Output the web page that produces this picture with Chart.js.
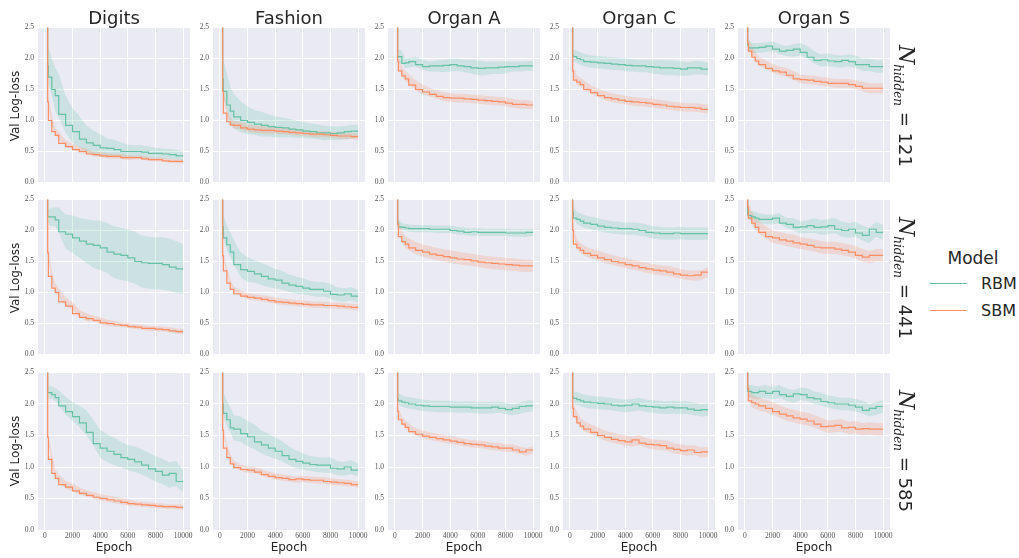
<!DOCTYPE html>
<html><head><meta charset="utf-8">
<script src="https://cdn.jsdelivr.net/npm/chart.js@4.4.1/dist/chart.umd.min.js"></script>
<style>
html,body{margin:0;padding:0;background:#fff;}
body{width:1019px;height:558px;position:relative;overflow:hidden;font-family:'DejaVu Sans',sans-serif;color:#262626;}
canvas{position:absolute;}
.t{position:absolute;white-space:nowrap;line-height:1.2;}
</style></head><body>
<script>
// ---------------- data ----------------
const EPOCHS = [200, 250, 500, 750, 1000, 1500, 2000, 2500, 3000, 3500, 4000, 4500, 5000, 5500, 6000, 6500, 7000, 7500, 8000, 8500, 9000, 9500, 10000];
const DATASET_NAMES = ['Digits', 'Fashion', 'Organ A', 'Organ C', 'Organ S'];
const HIDDEN_SIZES = [121, 441, 585];
const MODELS = ['RBM', 'SBM'];
const X_TICKS = [0, 2000, 4000, 6000, 8000, 10000];
const Y_TICKS = [0, 0.5, 1.0, 1.5, 2.0, 2.5];

// N_hidden = 121
const RBM_DIG_121 = [3.0, 1.88, 1.7, 1.5, 1.4, 1.1, 0.92, 0.82, 0.7, 0.64, 0.6, 0.56, 0.55, 0.53, 0.5, 0.5, 0.5, 0.49, 0.47, 0.47, 0.46, 0.45, 0.43];
const RBM_DIG_121_BAND = [0.3, 0.3, 0.3, 0.35, 0.35, 0.3, 0.28, 0.25, 0.22, 0.2, 0.18, 0.15, 0.14, 0.12, 0.11, 0.1, 0.1, 0.09, 0.09, 0.08, 0.08, 0.08, 0.07];
const SBM_DIG_121 = [3.0, 1.3, 1.0, 0.82, 0.76, 0.63, 0.58, 0.53, 0.5, 0.46, 0.45, 0.43, 0.42, 0.42, 0.4, 0.4, 0.4, 0.38, 0.37, 0.37, 0.35, 0.34, 0.34];
const SBM_DIG_121_BAND = [0.1, 0.1, 0.08, 0.06, 0.06, 0.05, 0.05, 0.05, 0.04, 0.04, 0.04, 0.04, 0.04, 0.04, 0.04, 0.03, 0.03, 0.03, 0.03, 0.03, 0.03, 0.03, 0.03];

const RBM_FAS_121 = [3.0, 1.67, 1.47, 1.25, 1.15, 1.06, 1.0, 0.97, 0.94, 0.92, 0.9, 0.89, 0.88, 0.86, 0.85, 0.83, 0.82, 0.8, 0.8, 0.79, 0.8, 0.82, 0.83];
const RBM_FAS_121_BAND = [0.3, 0.3, 0.3, 0.3, 0.28, 0.25, 0.22, 0.2, 0.2, 0.18, 0.17, 0.16, 0.15, 0.14, 0.13, 0.12, 0.12, 0.12, 0.11, 0.11, 0.11, 0.11, 0.1];
const SBM_FAS_121 = [3.0, 1.47, 1.12, 0.98, 0.93, 0.92, 0.88, 0.86, 0.85, 0.84, 0.84, 0.83, 0.82, 0.81, 0.8, 0.79, 0.78, 0.78, 0.77, 0.76, 0.75, 0.75, 0.74];
const SBM_FAS_121_BAND = [0.08, 0.08, 0.07, 0.06, 0.06, 0.06, 0.06, 0.06, 0.06, 0.06, 0.05, 0.05, 0.05, 0.05, 0.05, 0.05, 0.05, 0.05, 0.05, 0.05, 0.05, 0.05, 0.05];

const RBM_ORA_121 = [3.0, 2.03, 2.03, 1.92, 1.93, 1.95, 1.9, 1.87, 1.88, 1.88, 1.89, 1.9, 1.88, 1.87, 1.85, 1.84, 1.85, 1.85, 1.86, 1.87, 1.87, 1.88, 1.88];
const RBM_ORA_121_BAND = [0.12, 0.12, 0.1, 0.08, 0.08, 0.08, 0.08, 0.08, 0.09, 0.1, 0.1, 0.1, 0.1, 0.11, 0.12, 0.11, 0.1, 0.1, 0.1, 0.08, 0.08, 0.08, 0.08];
const SBM_ORA_121 = [3.0, 1.95, 1.8, 1.72, 1.67, 1.57, 1.5, 1.46, 1.42, 1.39, 1.37, 1.36, 1.36, 1.35, 1.34, 1.33, 1.32, 1.31, 1.3, 1.28, 1.26, 1.26, 1.25];
const SBM_ORA_121_BAND = [0.08, 0.08, 0.08, 0.08, 0.08, 0.08, 0.08, 0.07, 0.07, 0.07, 0.07, 0.07, 0.07, 0.07, 0.07, 0.07, 0.07, 0.07, 0.07, 0.07, 0.07, 0.07, 0.07];

const RBM_ORC_121 = [3.0, 2.05, 2.03, 2.0, 1.98, 1.95, 1.94, 1.93, 1.92, 1.91, 1.9, 1.89, 1.88, 1.88, 1.87, 1.86, 1.85, 1.85, 1.84, 1.83, 1.85, 1.85, 1.83];
const RBM_ORC_121_BAND = [0.1, 0.1, 0.1, 0.1, 0.1, 0.1, 0.1, 0.1, 0.1, 0.1, 0.1, 0.1, 0.1, 0.1, 0.11, 0.12, 0.12, 0.12, 0.12, 0.11, 0.11, 0.11, 0.1];
const SBM_ORC_121 = [3.0, 1.8, 1.65, 1.62, 1.58, 1.5, 1.45, 1.4, 1.37, 1.35, 1.33, 1.31, 1.3, 1.29, 1.28, 1.26, 1.25, 1.23, 1.22, 1.21, 1.21, 1.2, 1.18];
const SBM_ORC_121_BAND = [0.08, 0.08, 0.08, 0.07, 0.07, 0.07, 0.07, 0.07, 0.07, 0.07, 0.07, 0.07, 0.07, 0.07, 0.07, 0.07, 0.07, 0.07, 0.07, 0.07, 0.07, 0.07, 0.07];

const RBM_ORS_121 = [3.0, 2.22, 2.17, 2.17, 2.17, 2.18, 2.2, 2.15, 2.12, 2.13, 2.15, 2.1, 2.02, 1.97, 1.98, 1.96, 1.95, 1.97, 1.95, 1.9, 1.9, 1.87, 1.87];
const RBM_ORS_121_BAND = [0.12, 0.1, 0.08, 0.08, 0.08, 0.08, 0.08, 0.08, 0.08, 0.1, 0.1, 0.1, 0.1, 0.1, 0.1, 0.1, 0.1, 0.1, 0.1, 0.1, 0.1, 0.1, 0.1];
const SBM_ORS_121 = [3.0, 2.25, 2.12, 2.02, 1.96, 1.9, 1.84, 1.8, 1.78, 1.73, 1.67, 1.66, 1.65, 1.63, 1.62, 1.6, 1.6, 1.6, 1.58, 1.55, 1.52, 1.52, 1.52];
const SBM_ORS_121_BAND = [0.08, 0.08, 0.08, 0.08, 0.07, 0.07, 0.07, 0.07, 0.07, 0.07, 0.07, 0.07, 0.07, 0.07, 0.07, 0.07, 0.07, 0.07, 0.07, 0.08, 0.08, 0.08, 0.08];

// N_hidden = 441
const RBM_DIG_441 = [3.0, 2.22, 2.22, 2.22, 2.17, 1.98, 1.94, 1.88, 1.83, 1.78, 1.76, 1.72, 1.65, 1.62, 1.6, 1.56, 1.5, 1.48, 1.47, 1.47, 1.45, 1.41, 1.38];
const RBM_DIG_441_BAND = [0.1, 0.12, 0.15, 0.15, 0.2, 0.28, 0.3, 0.32, 0.35, 0.38, 0.4, 0.4, 0.42, 0.42, 0.42, 0.42, 0.42, 0.42, 0.42, 0.42, 0.42, 0.42, 0.4];
const SBM_DIG_441 = [3.0, 1.64, 1.26, 1.07, 1.0, 0.85, 0.78, 0.66, 0.6, 0.58, 0.55, 0.51, 0.5, 0.48, 0.47, 0.45, 0.44, 0.42, 0.42, 0.41, 0.4, 0.38, 0.37];
const SBM_DIG_441_BAND = [0.1, 0.1, 0.08, 0.08, 0.07, 0.07, 0.06, 0.06, 0.06, 0.05, 0.05, 0.05, 0.05, 0.04, 0.04, 0.04, 0.04, 0.04, 0.04, 0.04, 0.04, 0.04, 0.04];

const RBM_FAS_441 = [3.0, 2.06, 1.88, 1.77, 1.65, 1.45, 1.37, 1.34, 1.3, 1.26, 1.22, 1.2, 1.15, 1.12, 1.1, 1.07, 1.05, 1.05, 1.02, 0.97, 0.96, 0.98, 0.94];
const RBM_FAS_441_BAND = [0.2, 0.2, 0.2, 0.2, 0.2, 0.2, 0.2, 0.18, 0.18, 0.17, 0.16, 0.15, 0.14, 0.14, 0.13, 0.12, 0.12, 0.12, 0.12, 0.11, 0.11, 0.11, 0.1];
const SBM_FAS_441 = [3.0, 1.59, 1.35, 1.15, 1.05, 0.98, 0.94, 0.92, 0.91, 0.89, 0.87, 0.85, 0.84, 0.83, 0.82, 0.81, 0.8, 0.8, 0.79, 0.79, 0.78, 0.77, 0.76];
const SBM_FAS_441_BAND = [0.07, 0.07, 0.06, 0.06, 0.05, 0.05, 0.05, 0.05, 0.05, 0.05, 0.05, 0.05, 0.05, 0.05, 0.05, 0.05, 0.05, 0.05, 0.05, 0.05, 0.05, 0.05, 0.05];

const RBM_ORA_441 = [3.0, 2.12, 2.06, 2.05, 2.04, 2.03, 2.03, 2.03, 2.02, 2.02, 2.02, 2.0, 1.99, 1.97, 1.98, 1.97, 1.97, 1.97, 1.97, 1.96, 1.96, 1.96, 1.97];
const RBM_ORA_441_BAND = [0.08, 0.07, 0.06, 0.06, 0.06, 0.06, 0.06, 0.06, 0.06, 0.06, 0.06, 0.06, 0.06, 0.06, 0.06, 0.06, 0.06, 0.06, 0.06, 0.06, 0.06, 0.06, 0.06];
const SBM_ORA_441 = [3.0, 2.1, 1.9, 1.82, 1.78, 1.72, 1.68, 1.65, 1.62, 1.6, 1.58, 1.56, 1.54, 1.53, 1.51, 1.49, 1.48, 1.47, 1.46, 1.45, 1.44, 1.43, 1.43];
const SBM_ORA_441_BAND = [0.08, 0.08, 0.09, 0.1, 0.1, 0.1, 0.1, 0.1, 0.1, 0.1, 0.1, 0.1, 0.1, 0.1, 0.1, 0.1, 0.1, 0.1, 0.1, 0.1, 0.1, 0.1, 0.1];

const RBM_ORC_441 = [3.0, 2.3, 2.2, 2.18, 2.15, 2.12, 2.1, 2.07, 2.05, 2.04, 2.03, 2.03, 2.02, 2.0, 1.97, 1.96, 1.95, 1.95, 1.96, 1.95, 1.95, 1.95, 1.95];
const RBM_ORC_441_BAND = [0.1, 0.1, 0.1, 0.1, 0.1, 0.1, 0.1, 0.1, 0.1, 0.1, 0.1, 0.1, 0.1, 0.1, 0.1, 0.1, 0.1, 0.1, 0.1, 0.1, 0.1, 0.1, 0.1];
const SBM_ORC_441 = [3.0, 2.0, 1.78, 1.72, 1.68, 1.63, 1.6, 1.56, 1.53, 1.5, 1.48, 1.45, 1.43, 1.4, 1.38, 1.36, 1.35, 1.33, 1.3, 1.28, 1.27, 1.28, 1.33];
const SBM_ORC_441_BAND = [0.08, 0.08, 0.08, 0.08, 0.08, 0.08, 0.08, 0.08, 0.08, 0.08, 0.08, 0.08, 0.08, 0.08, 0.08, 0.08, 0.08, 0.08, 0.08, 0.08, 0.08, 0.08, 0.08];

const RBM_ORS_441 = [3.0, 2.25, 2.24, 2.22, 2.2, 2.18, 2.18, 2.2, 2.12, 2.1, 2.05, 2.06, 2.08, 2.05, 2.06, 2.08, 2.02, 2.0, 2.02, 1.96, 1.92, 2.02, 1.97];
const RBM_ORS_441_BAND = [0.08, 0.08, 0.08, 0.08, 0.08, 0.08, 0.08, 0.08, 0.08, 0.1, 0.1, 0.1, 0.12, 0.12, 0.12, 0.12, 0.12, 0.12, 0.12, 0.12, 0.12, 0.12, 0.12];
const SBM_ORS_441 = [3.0, 2.38, 2.2, 2.12, 2.05, 1.97, 1.9, 1.88, 1.85, 1.83, 1.8, 1.78, 1.76, 1.73, 1.72, 1.72, 1.7, 1.68, 1.65, 1.6, 1.57, 1.6, 1.6];
const SBM_ORS_441_BAND = [0.1, 0.1, 0.1, 0.1, 0.1, 0.1, 0.1, 0.1, 0.1, 0.1, 0.1, 0.1, 0.1, 0.1, 0.1, 0.1, 0.1, 0.1, 0.1, 0.1, 0.1, 0.1, 0.1];

// N_hidden = 585
const RBM_DIG_585 = [3.0, 2.18, 2.18, 2.15, 2.1, 1.97, 1.88, 1.8, 1.7, 1.55, 1.37, 1.3, 1.25, 1.2, 1.15, 1.12, 1.08, 1.03, 0.97, 0.93, 0.87, 0.9, 0.77];
const RBM_DIG_585_BAND = [0.1, 0.1, 0.1, 0.1, 0.12, 0.14, 0.15, 0.17, 0.2, 0.2, 0.22, 0.22, 0.22, 0.2, 0.2, 0.2, 0.2, 0.2, 0.2, 0.2, 0.2, 0.2, 0.18];
const SBM_DIG_585 = [3.0, 1.47, 1.12, 0.9, 0.82, 0.72, 0.68, 0.62, 0.58, 0.55, 0.52, 0.5, 0.48, 0.46, 0.44, 0.42, 0.41, 0.4, 0.39, 0.38, 0.37, 0.37, 0.36];
const SBM_DIG_585_BAND = [0.1, 0.08, 0.07, 0.07, 0.06, 0.06, 0.06, 0.06, 0.05, 0.05, 0.05, 0.05, 0.05, 0.05, 0.05, 0.04, 0.04, 0.04, 0.04, 0.04, 0.04, 0.04, 0.04];

const RBM_FAS_585 = [3.0, 2.0, 1.85, 1.75, 1.62, 1.6, 1.53, 1.48, 1.4, 1.35, 1.3, 1.25, 1.18, 1.12, 1.09, 1.06, 1.04, 1.03, 1.03, 0.98, 0.97, 1.0, 0.95];
const RBM_FAS_585_BAND = [0.2, 0.2, 0.2, 0.2, 0.2, 0.2, 0.2, 0.2, 0.18, 0.18, 0.17, 0.16, 0.15, 0.14, 0.13, 0.12, 0.12, 0.12, 0.12, 0.11, 0.11, 0.11, 0.1];
const SBM_FAS_585 = [3.0, 1.58, 1.3, 1.15, 1.05, 0.99, 0.96, 0.95, 0.92, 0.88, 0.85, 0.83, 0.82, 0.8, 0.81, 0.8, 0.79, 0.79, 0.77, 0.76, 0.75, 0.74, 0.72];
const SBM_FAS_585_BAND = [0.07, 0.07, 0.06, 0.06, 0.05, 0.05, 0.05, 0.05, 0.05, 0.05, 0.05, 0.05, 0.05, 0.05, 0.05, 0.05, 0.05, 0.05, 0.05, 0.05, 0.05, 0.05, 0.05];

const RBM_ORA_585 = [3.0, 2.08, 2.05, 2.03, 2.02, 2.0, 1.98, 1.97, 1.96, 1.96, 1.96, 1.95, 1.95, 1.95, 1.94, 1.94, 1.94, 1.95, 1.93, 1.91, 1.93, 1.96, 1.97];
const RBM_ORA_585_BAND = [0.09, 0.09, 0.09, 0.09, 0.09, 0.09, 0.09, 0.09, 0.09, 0.09, 0.09, 0.09, 0.09, 0.09, 0.09, 0.09, 0.09, 0.09, 0.09, 0.09, 0.09, 0.09, 0.09];
const SBM_ORA_585 = [3.0, 1.88, 1.75, 1.68, 1.63, 1.56, 1.52, 1.49, 1.47, 1.45, 1.43, 1.41, 1.39, 1.37, 1.36, 1.35, 1.33, 1.32, 1.3, 1.3, 1.27, 1.24, 1.27];
const SBM_ORA_585_BAND = [0.06, 0.06, 0.06, 0.06, 0.06, 0.06, 0.06, 0.06, 0.06, 0.06, 0.06, 0.06, 0.06, 0.06, 0.06, 0.06, 0.06, 0.06, 0.06, 0.06, 0.06, 0.06, 0.06];

const RBM_ORC_585 = [3.0, 2.1, 2.09, 2.07, 2.05, 2.03, 2.02, 2.01, 2.0, 1.98, 1.97, 1.98, 2.0, 1.97, 1.96, 1.95, 1.94, 1.95, 1.94, 1.94, 1.92, 1.9, 1.91];
const RBM_ORC_585_BAND = [0.1, 0.1, 0.1, 0.1, 0.1, 0.1, 0.1, 0.1, 0.1, 0.1, 0.1, 0.1, 0.1, 0.1, 0.1, 0.1, 0.1, 0.1, 0.1, 0.1, 0.1, 0.1, 0.1];
const SBM_ORC_585 = [3.0, 1.93, 1.8, 1.7, 1.65, 1.6, 1.55, 1.5, 1.47, 1.44, 1.42, 1.4, 1.43, 1.38, 1.36, 1.35, 1.34, 1.3, 1.28, 1.26, 1.27, 1.23, 1.24];
const SBM_ORC_585_BAND = [0.08, 0.08, 0.08, 0.08, 0.08, 0.08, 0.08, 0.08, 0.08, 0.08, 0.08, 0.08, 0.08, 0.08, 0.08, 0.08, 0.08, 0.08, 0.08, 0.08, 0.08, 0.08, 0.08];

const RBM_ORS_585 = [3.0, 2.2, 2.2, 2.18, 2.18, 2.2, 2.17, 2.2, 2.15, 2.12, 2.16, 2.15, 2.1, 2.08, 2.04, 2.02, 2.0, 2.0, 1.98, 1.95, 1.9, 1.93, 1.96];
const RBM_ORS_585_BAND = [0.1, 0.1, 0.1, 0.1, 0.1, 0.1, 0.1, 0.1, 0.1, 0.1, 0.1, 0.1, 0.1, 0.1, 0.1, 0.1, 0.1, 0.1, 0.1, 0.1, 0.1, 0.1, 0.1];
const SBM_ORS_585 = [3.0, 2.25, 2.05, 2.02, 2.0, 1.97, 1.93, 1.88, 1.84, 1.81, 1.78, 1.76, 1.73, 1.68, 1.64, 1.65, 1.66, 1.62, 1.63, 1.6, 1.61, 1.6, 1.6];
const SBM_ORS_585_BAND = [0.1, 0.1, 0.1, 0.1, 0.1, 0.1, 0.1, 0.1, 0.1, 0.1, 0.1, 0.1, 0.1, 0.1, 0.1, 0.1, 0.1, 0.1, 0.1, 0.1, 0.1, 0.1, 0.1];

// ---------------- layout & style ----------------
const PLOT_LEFT = [38, 213, 388, 563, 738];
const PLOT_TOP = [27, 199, 372];
const PLOT_W = 152, PLOT_H = 158;
const COLORS = { RBM: '#66c2a5', SBM: '#fc8d62' };
const BAND_COLORS = { RBM: 'rgba(102,194,165,0.22)', SBM: 'rgba(252,141,98,0.22)' };
const TEXT = '#262626';
const TICK_FONT = { family: "'Liberation Serif','DejaVu Serif',serif", size: 7.5 };

const GRID = [
  [RBM_DIG_121, RBM_DIG_121_BAND, SBM_DIG_121, SBM_DIG_121_BAND],
  [RBM_FAS_121, RBM_FAS_121_BAND, SBM_FAS_121, SBM_FAS_121_BAND],
  [RBM_ORA_121, RBM_ORA_121_BAND, SBM_ORA_121, SBM_ORA_121_BAND],
  [RBM_ORC_121, RBM_ORC_121_BAND, SBM_ORC_121, SBM_ORC_121_BAND],
  [RBM_ORS_121, RBM_ORS_121_BAND, SBM_ORS_121, SBM_ORS_121_BAND],
  [RBM_DIG_441, RBM_DIG_441_BAND, SBM_DIG_441, SBM_DIG_441_BAND],
  [RBM_FAS_441, RBM_FAS_441_BAND, SBM_FAS_441, SBM_FAS_441_BAND],
  [RBM_ORA_441, RBM_ORA_441_BAND, SBM_ORA_441, SBM_ORA_441_BAND],
  [RBM_ORC_441, RBM_ORC_441_BAND, SBM_ORC_441, SBM_ORC_441_BAND],
  [RBM_ORS_441, RBM_ORS_441_BAND, SBM_ORS_441, SBM_ORS_441_BAND],
  [RBM_DIG_585, RBM_DIG_585_BAND, SBM_DIG_585, SBM_DIG_585_BAND],
  [RBM_FAS_585, RBM_FAS_585_BAND, SBM_FAS_585, SBM_FAS_585_BAND],
  [RBM_ORA_585, RBM_ORA_585_BAND, SBM_ORA_585, SBM_ORA_585_BAND],
  [RBM_ORC_585, RBM_ORC_585_BAND, SBM_ORC_585, SBM_ORC_585_BAND],
  [RBM_ORS_585, RBM_ORS_585_BAND, SBM_ORS_585, SBM_ORS_585_BAND]
];

const bgPlugin = {
  id: 'panelBg',
  beforeDraw(chart) {
    const { ctx, chartArea: a } = chart;
    ctx.save();
    ctx.fillStyle = '#EAEAF2';
    ctx.fillRect(a.left, a.top, a.right - a.left, a.bottom - a.top);
    ctx.restore();
  }
};

function pts(vals, band, sign) {
  return EPOCHS.map((e, i) => ({ x: e, y: vals[i] + sign * (band ? band[i] : 0) }));
}

function makePanel(col, row) {
  const [rbm, rbmBand, sbm, sbmBand] = GRID[row * 5 + col];
  const yW = 30, padT = 8, padR = 14;
  const xH = row === 2 ? 26 : 6;
  const cv = document.createElement('canvas');
  cv.width = yW + PLOT_W + padR;
  cv.height = padT + PLOT_H + xH;
  cv.style.left = (PLOT_LEFT[col] - yW) + 'px';
  cv.style.top = (PLOT_TOP[row] - padT) + 'px';
  cv.style.width = cv.width + 'px';
  cv.style.height = cv.height + 'px';
  document.body.appendChild(cv);

  const lineDs = (label, data, color) => ({
    label, data, borderColor: color, borderWidth: 1.2, pointRadius: 0,
    stepped: 'after', tension: 0, fill: false, clip: 0
  });
  const bandDs = (label, data, color, fill) => ({
    label, data, borderWidth: 0, borderColor: 'rgba(0,0,0,0)', pointRadius: 0,
    backgroundColor: color, fill, tension: 0, clip: 0
  });

  new Chart(cv, {
    type: 'line',
    data: {
      datasets: [
        lineDs('SBM', pts(sbm, null, 0), COLORS.SBM),
        lineDs('RBM', pts(rbm, null, 0), COLORS.RBM),
        bandDs('SBM hi', pts(sbm, sbmBand, 1), BAND_COLORS.SBM, '+1'),
        bandDs('SBM lo', pts(sbm, sbmBand, -1), BAND_COLORS.SBM, false),
        bandDs('RBM hi', pts(rbm, rbmBand, 1), BAND_COLORS.RBM, '+1'),
        bandDs('RBM lo', pts(rbm, rbmBand, -1), BAND_COLORS.RBM, false)
      ]
    },
    options: {
      responsive: false, animation: false, devicePixelRatio: 1,
      layout: { padding: { left: 0, top: padT, right: padR, bottom: 0 } },
      plugins: { legend: { display: false }, tooltip: { enabled: false } },
      scales: {
        x: {
          type: 'linear', min: -500, max: 10500,
          afterBuildTicks: s => { s.ticks = X_TICKS.map(v => ({ value: v })); },
          afterFit: s => { s.height = xH; },
          grid: { color: '#ffffff', lineWidth: 1, drawTicks: false },
          border: { display: false },
          ticks: {
            display: row === 2, font: TICK_FONT, color: '#555', padding: 2,
            maxRotation: 0, autoSkip: false, callback: v => String(v)
          }
        },
        y: {
          type: 'linear', min: 0, max: 2.5,
          afterBuildTicks: s => { s.ticks = Y_TICKS.map(v => ({ value: v })); },
          afterFit: s => { s.width = yW; },
          grid: { color: '#ffffff', lineWidth: 1, drawTicks: false },
          border: { display: false },
          ticks: { font: TICK_FONT, color: '#555', padding: 4, callback: v => Number(v).toFixed(1) }
        }
      }
    },
    plugins: [bgPlugin]
  });
}

for (let r = 0; r < 3; r++) for (let c = 0; c < 5; c++) makePanel(c, r);

// ---------------- text ----------------
function addText(html, css) {
  const d = document.createElement('div');
  d.className = 't';
  d.innerHTML = html;
  Object.assign(d.style, css);
  document.body.appendChild(d);
  return d;
}

DATASET_NAMES.forEach((name, c) => {
  addText(name, { left: (PLOT_LEFT[c] + PLOT_W / 2) + 'px', top: '7px', fontSize: '18px',
    transform: 'translateX(-50%)', color: TEXT });
  addText('Epoch', { left: (PLOT_LEFT[c] + PLOT_W / 2) + 'px', top: '540px', fontSize: '12px',
    transform: 'translateX(-50%)', color: TEXT });
});

HIDDEN_SIZES.forEach((n, r) => {
  const cy = PLOT_TOP[r] + PLOT_H / 2;
  addText('Val Log-loss', { left: '15px', top: cy + 'px', fontSize: '12px',
    transform: 'translate(-50%,-50%) rotate(-90deg)', color: TEXT });
  addText(
    '<span style="font-family:\'DejaVu Serif\',serif;font-style:italic;font-size:22px">N</span>' +
    '<span style="font-family:\'DejaVu Serif\',serif;font-style:italic;font-size:12px;position:relative;top:5px">hidden</span>' +
    '<span style="font-size:18px"> = ' + n + '</span>',
    { left: '904px', top: cy + 'px', transform: 'translate(-50%,-50%) rotate(90deg)', color: TEXT, lineHeight: '26px' });
});

// legend
addText('Model', { left: '973px', top: '258px', fontSize: '17px', transform: 'translate(-50%,-50%)', color: TEXT });
MODELS.forEach((m, i) => {
  const y = 284 + i * 26.5;
  addText('', { left: '930px', top: (y - 0.75) + 'px', width: '37px', height: '0px',
    borderTop: '1.5px solid ' + COLORS[m] });
  addText(m, { left: '981px', top: y + 'px', fontSize: '16px', transform: 'translateY(-50%)', color: TEXT });
});
</script>
</body></html>
